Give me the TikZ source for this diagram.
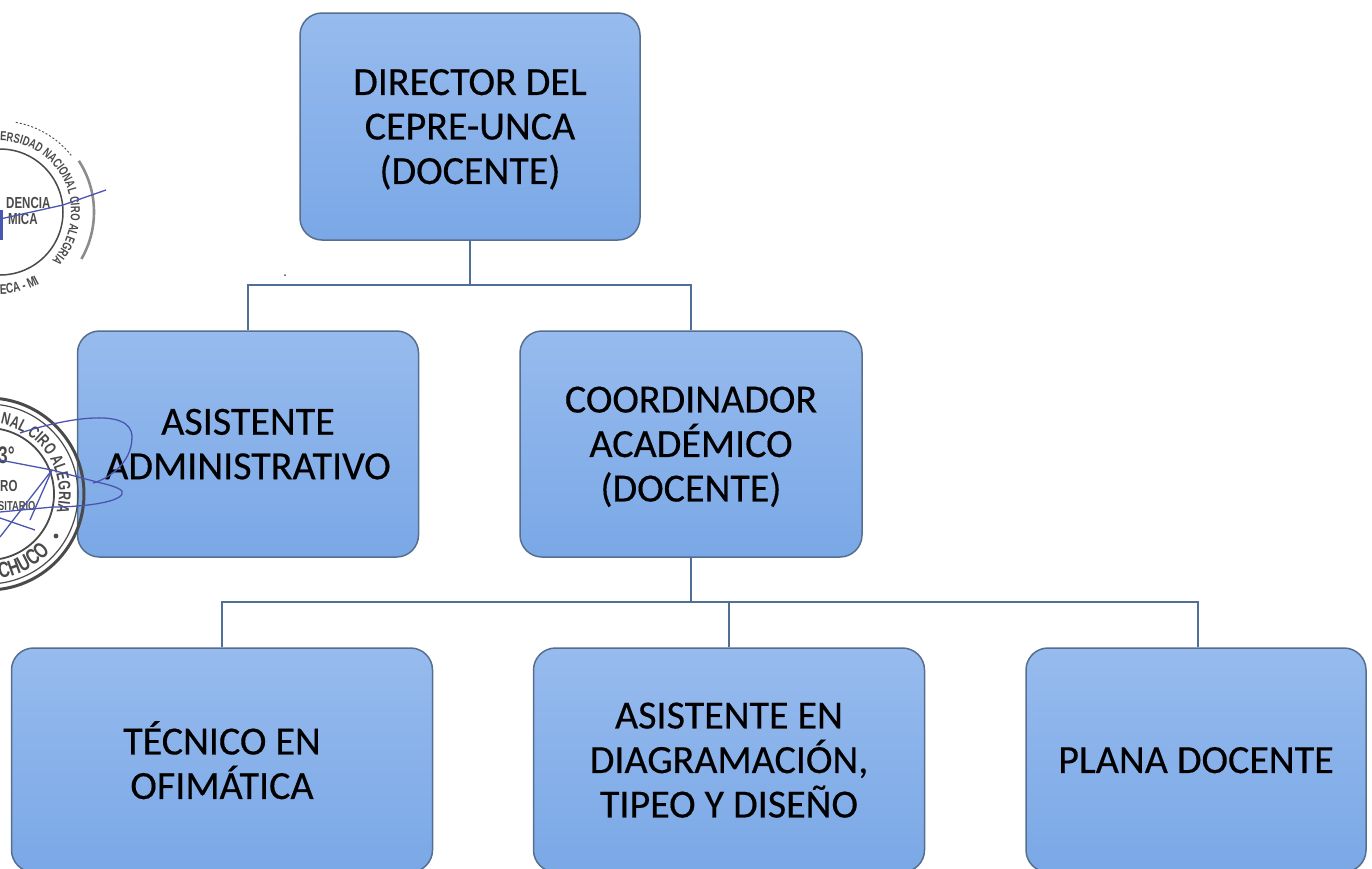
\documentclass[tikz,border=0pt]{standalone}
\usepackage{fontspec}
\setmainfont{Carlito}
\newfontfamily\boxfont{Carlito}[FakeBold=0.35]
\newfontfamily\stampfont{Liberation Sans Bold}[FakeStretch=0.72]
\usetikzlibrary{decorations.text}
\definecolor{boxtop}{HTML}{97BBEE}
\definecolor{boxbot}{HTML}{7AA8E6}
\definecolor{boxedge}{HTML}{566F8E}
\definecolor{linkc}{HTML}{4F6F98}
\definecolor{stampc}{HTML}{4A4A4A}
\definecolor{penc}{HTML}{4A55B0}
\tikzset{
  orgbox/.style={draw=boxedge,line width=1.5pt,rounded corners=22pt,top color=boxtop,bottom color=boxbot,
    align=center,text=black,inner sep=0pt,text depth=0pt,font=\boxfont\fontsize{40}{44.5}\selectfont},
  link/.style={draw=linkc,line width=1.8pt},
  ring/.style={draw=stampc},
  pen/.style={draw=penc,line width=1.3pt},
  stamptext/.style={text=stampc,font=\stampfont\fontsize{16}{16}\selectfont,inner sep=0pt},
}
\begin{document}
\begin{tikzpicture}[x=1pt,y=-1pt]
\useasboundingbox (0,0) rectangle (1372,868);
\clip (0,0) rectangle (1372,868);
% boxes
\node[orgbox,minimum width=340pt,minimum height=227pt] (dir) at (470,126.5) {DIRECTOR DEL\\CEPRE-UNCA\\(DOCENTE)};
\node[orgbox,minimum width=341pt,minimum height=226pt] (asis) at (248,444) {ASISTENTE\\ADMINISTRATIVO};
\node[orgbox,minimum width=342pt,minimum height=226pt] (coord) at (691,444) {COORDINADOR\\ACADÉMICO\\(DOCENTE)};
\node[orgbox,minimum width=421pt,minimum height=224pt] (tec) at (222,760) {TÉCNICO EN\\OFIMÁTICA};
\node[orgbox,minimum width=391pt,minimum height=224pt] (diag) at (729,760) {ASISTENTE EN\\DIAGRAMACIÓN,\\TIPEO Y DISEÑO};
\node[orgbox,minimum width=340pt,minimum height=224pt] (plana) at (1196,760) {PLANA DOCENTE};
% connectors
\coordinate (busa) at (470,285);
\coordinate (busb) at (691,602);
\draw[link] (dir.south) -- (busa);
\draw[link] (asis.north) |- (busa) -| (coord.north);
\draw[link] (coord.south) -- (busb);
\draw[link] ([xshift=0pt]tec.north) |- (busb) -| ([xshift=2pt]plana.north);
\draw[link] (diag.north) -- (diag.north |- busb);
% small speck
\fill[black!70] (285,275) circle (1pt);
% upper stamp
\begin{scope}
\draw[ring,line width=.9pt,dash pattern=on 2pt off 2pt] (0,212) ++(-80:91) arc (-80:-38:91);
\draw[ring,line width=2.6pt,black!45] (0,212) ++(-33:94) arc (-33:30:94);
\draw[ring,line width=1.5pt] (0,212) ++(-90:63) arc (-90:90:63);
\path[postaction={decorate,decoration={text along path,text align=left,text color=stampc,
  text={|\stampfont\fontsize{13}{13}\selectfont|ERSIDAD NACIONAL CIRO ALEGRIA}}}]
  (0,212) ++(-90:71) arc (-90:50:71);
\path[postaction={decorate,decoration={text along path,text align=left,text color=stampc,
  text={|\stampfont\fontsize{14}{14}\selectfont|ECA - MI}}}]
  (0,212) ++(90:82) arc (90:50:82);
\node[stamptext,anchor=west] (sa) at (6,203) {DENCIA};
\node[stamptext,anchor=west] (sb) at (8,219) {MICA};
\draw[pen] (106,190) -- (63,205) -- (0,219);
\fill[penc] (-2,210) rectangle (3,240);
\end{scope}
% lower stamp
\begin{scope}
\draw[stampc,line width=3pt] (-12,494) circle (96);
\draw[stampc,line width=1.2pt] (-12,494) circle (90);
\draw[stampc,line width=1.8pt] (-12,494) circle (66);
\path[postaction={decorate,decoration={text along path,text align=left,text color=stampc,
  text={|\stampfont\fontsize{17}{17}\selectfont|NAL CIRO ALEGRIA}}}]
  (-12,494) ++(-80:71) arc (-80:26:71);
\path[postaction={decorate,decoration={text along path,text align=left,text color=stampc,
  text={|\stampfont\fontsize{22}{22}\selectfont|CHUCO}}}]
  (-12,494) ++(82:85) arc (82:25:85);
\fill[stampc] (56,536) circle (2.4pt);
\node[stamptext,anchor=west,font=\stampfont\fontsize{24}{24}\selectfont] (sc) at (-2,455) {3°};
\node[stamptext,anchor=west,font=\stampfont\fontsize{16}{16}\selectfont] (sd) at (0,486) {RO};
\node[stamptext,anchor=west,font=\stampfont\fontsize{13}{13}\selectfont] (se) at (-2,506) {SITARIO};
\draw[pen] (20,433) .. controls (60,420) and (132,405) .. (132,437) .. controls (132,465) and (105,480) .. (93,483);
\draw[pen] (0,460) -- (52,470) -- (97,482) .. controls (115,486) and (125,490) .. (122,494) .. controls (118,503) and (80,507) .. (53,507) -- (0,512);
\draw[pen] (52,470) -- (0,537);
\draw[pen] (52,470) -- (30,520);
\draw[pen] (0,518) -- (35,530);
\end{scope}
\end{tikzpicture}
\end{document}
